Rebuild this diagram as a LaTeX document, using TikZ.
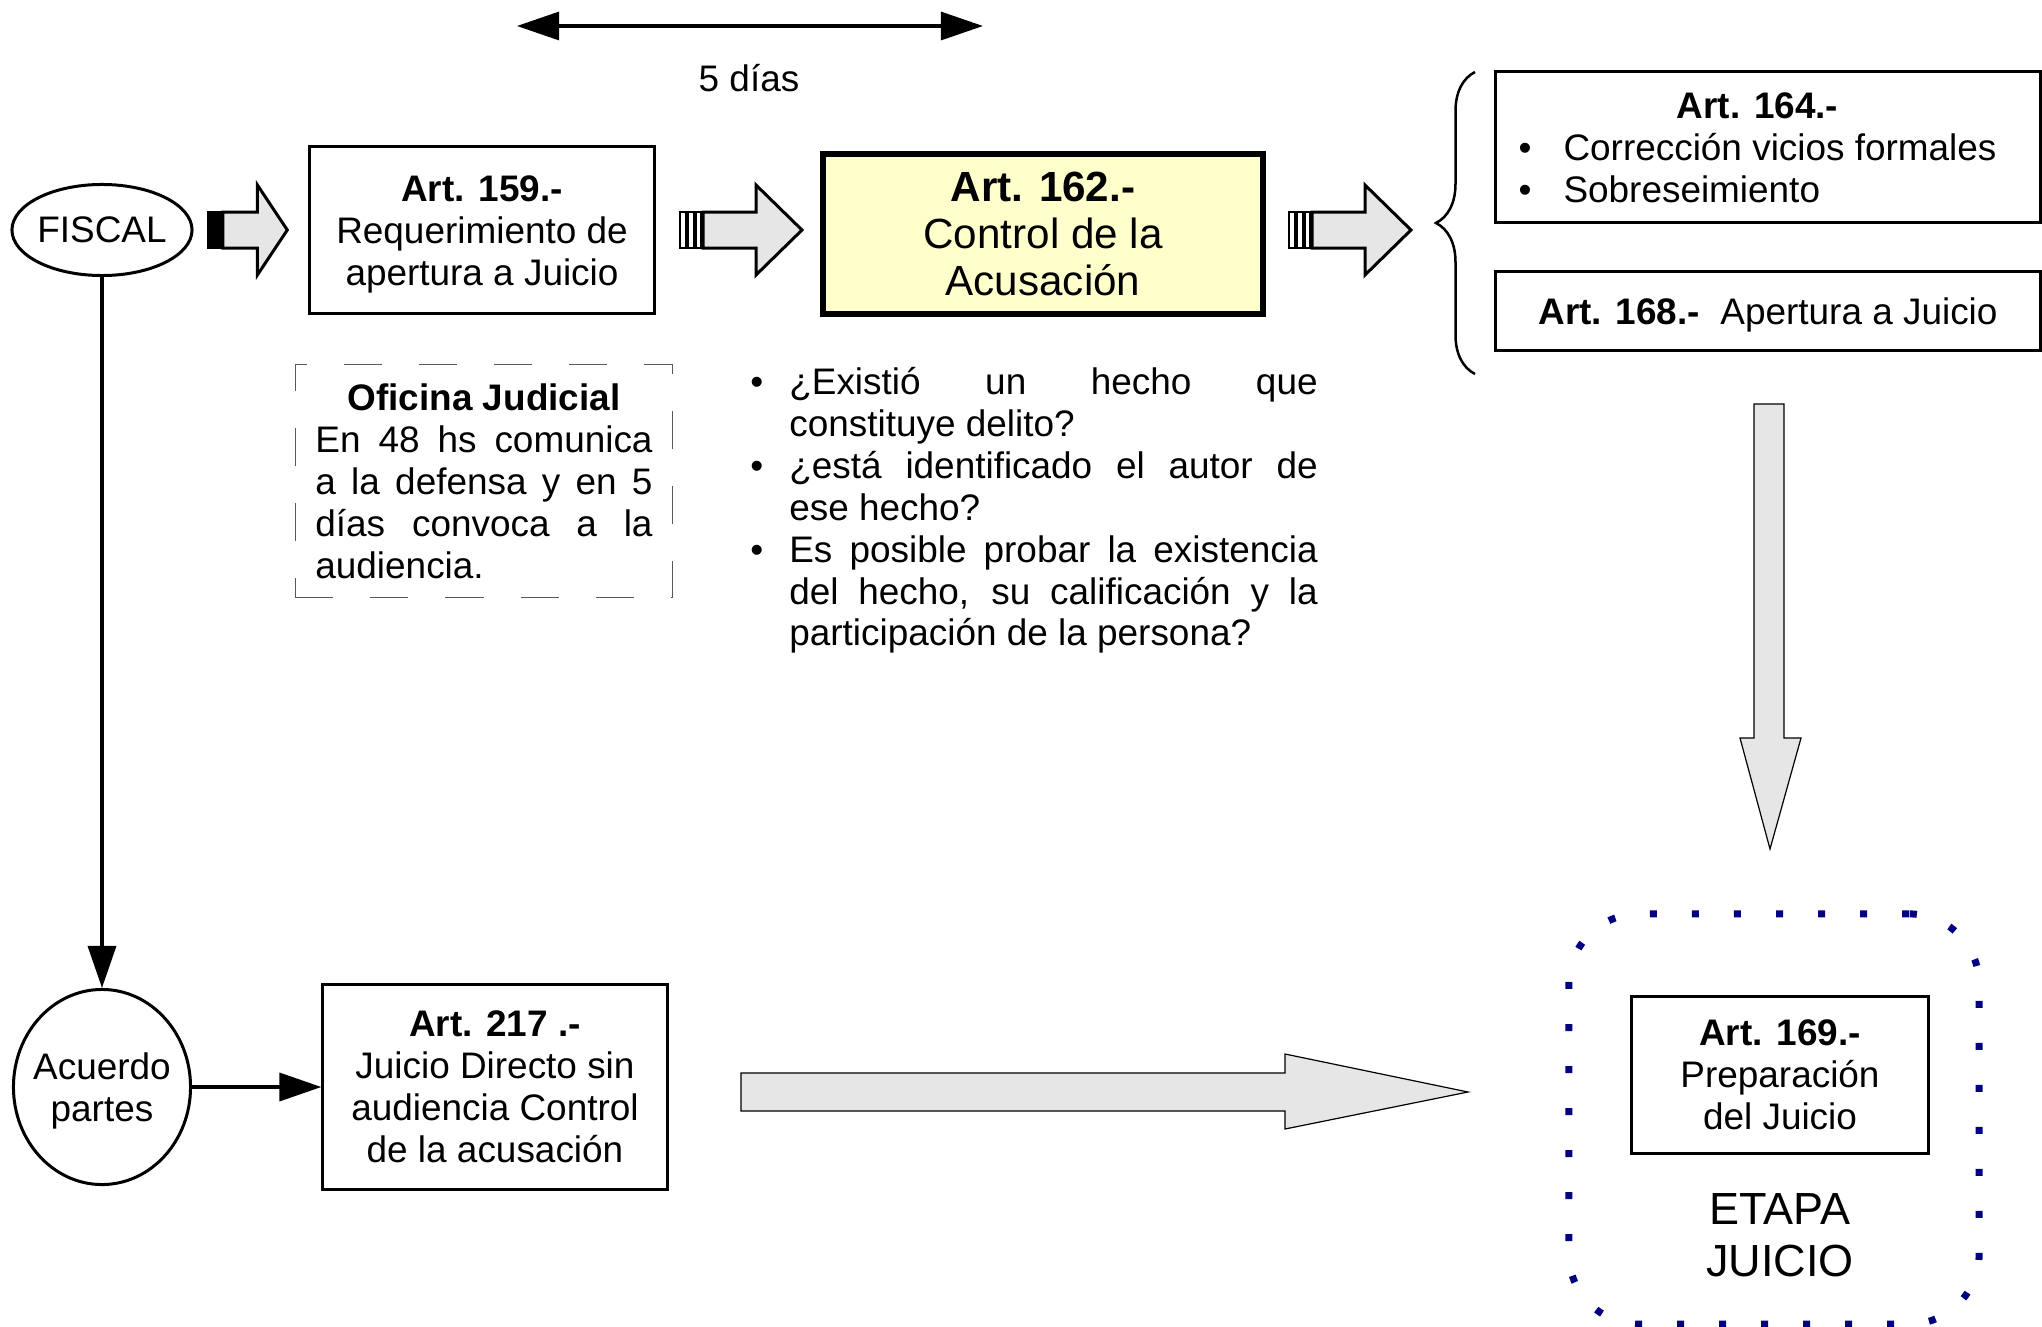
\documentclass[tikz,border=0pt]{standalone}
\usepackage{fontspec}
\setmainfont{Liberation Sans}
\usepackage{xcolor}
\usetikzlibrary{arrows.meta,decorations.pathreplacing,shapes.geometric}
\definecolor{amarillo}{HTML}{FFFFCC}
\definecolor{grisclaro}{HTML}{E6E6E6}
\definecolor{azulmarino}{HTML}{000080}
\newcommand{\punto}{\makebox[0.45cm][l]{•}}
\newcommand{\bajado}[1]{\raisebox{-0.05cm}[\height][\depth]{\begin{tabular}{@{}c@{}}#1\end{tabular}}}
\newcommand{\rayada}[4]{%
  \begin{scope}[shift={(#1,#2)}, xscale=#3]
    \draw[line width=0.03cm, fill=grisclaro, line join=miter] (23,-18) -- (76,-18) -- (76,-45) -- (122,0) -- (76,45) -- (76,18) -- (23,18) -- cycle;
    \foreach \a/\b in {0/6, 8/14, 16/21}
      \draw[line width=0.025cm, fill=#4] (\a,-18) rectangle (\b,18);
  \end{scope}}

\begin{document}
\begin{tikzpicture}[x=0.01cm, y=-0.01cm,
    font=\fontsize{10.5}{11.9}\selectfont,
    >={Triangle[length=0.42cm, width=0.28cm]},
    caja/.style={draw, line width=0.03cm, align=center, inner sep=2pt},
    elipse/.style={draw, ellipse, line width=0.03cm, inner sep=0pt, align=center},
    flecha/.style={->, line width=0.035cm},
    bloque/.style={draw, line width=0.012cm, fill=grisclaro},
    oficina/.style={draw=black!65, line width=0.015cm, dash pattern=on 0.38cm off 0.37cm}]
  \useasboundingbox (0,0) rectangle (2042,1327);

  \coordinate (ini5) at (517,26);
  \coordinate (fin5) at (983,26);
  \draw[<->, line width=0.03cm] (ini5) -- (fin5);
  \node (cinco) at (749,78) {5 días};

  \node[elipse, minimum width=1.80cm, minimum height=0.91cm] (fiscal) at (102,230) {\makebox[0pt]{FISCAL}};
  \node[caja, minimum width=3.44cm, minimum height=1.67cm] (a159) at (482,230)
    {\bajado{\textbf{Art. 159.-}\\Requerimiento de\\apertura a Juicio}};
  \node[caja, line width=0.06cm, fill=amarillo, minimum width=4.40cm, minimum height=1.60cm,
    font=\fontsize{12}{13.4}\selectfont] (a162) at (1043,234)
    {\textbf{Art. 162.-}\\Control de la\\Acusación};
  \rayada{208}{230}{0.65}{black}
  \rayada{680}{230}{1}{white}
  \rayada{1289}{230}{1}{white}

  \node[oficina, minimum width=3.77cm, minimum height=2.30cm] (ofi) at (484,481) {%
    \raisebox{-0.05cm}[\height][\depth]{\begin{tabular}{@{}c@{}}
      \textbf{Oficina Judicial}\\
      \makebox[3.37cm][s]{En 48 hs comunica}\\
      \makebox[3.37cm][s]{a la defensa y en 5}\\
      \makebox[3.37cm][s]{días convoca a la}\\
      \makebox[3.37cm][l]{audiencia.}
    \end{tabular}}};
  \node (preguntas) at (1034,512) {%
    \begin{tabular}{@{}p{0.39cm}@{}l@{}}
      • & \makebox[5.28cm][s]{¿Existió un hecho que}\\
        & constituye delito?\\
      • & \makebox[5.28cm][s]{¿está identificado el autor de}\\
        & ese hecho?\\
      • & \makebox[5.28cm][s]{Es posible probar la existencia}\\
        & \makebox[5.28cm][s]{del hecho, su calificación y la}\\
        & participación de la persona?
    \end{tabular}};

  \draw[line width=0.025cm, decorate, decoration={brace, amplitude=0.39cm}] (1475,374) -- (1475,72);
  \node[caja, minimum width=5.45cm, minimum height=1.51cm] (a164) at (1768,147) {%
    \raisebox{-0.05cm}[\height][\depth]{\begin{tabular}{@{}l@{}}
      \multicolumn{1}{c}{\textbf{Art. 164.-}}\\
      \punto Corrección vicios formales\\
      \punto Sobreseimiento
    \end{tabular}}\hspace*{0.21cm}};
  \node[caja, minimum width=5.45cm, minimum height=0.78cm] (a168) at (1768,311)
    {\bajado{\textbf{Art. 168.-}\ \ Apertura a Juicio}};

  \draw[bloque] (1754,404) -- (1784,404) -- (1784,738) -- (1801,738) -- (1770,849)
    -- (1740,738) -- (1754,738) -- cycle;

  \node[elipse, minimum width=1.77cm, minimum height=1.95cm] (acuerdo) at (102,1087)
    {\makebox[0pt]{\bajado{Acuerdo\\partes}}};
  \node[caja, minimum width=3.44cm, minimum height=2.04cm] (a217) at (495,1087)
    {\textbf{Art. 217 .-}\\Juicio Directo sin\\audiencia Control\\de la acusación};
  \draw[flecha] (fiscal.south) -- (acuerdo.north);
  \draw[flecha] (acuerdo) -- (a217);

  \draw[bloque] (741,1073) -- (1285,1073) -- (1285,1054) -- (1468,1092) -- (1285,1129)
    -- (1285,1111) -- (741,1111) -- cycle;

  \node[draw=azulmarino, line width=0.07cm, dash pattern=on 0.07cm off 0.35cm, rounded corners=0.7cm,
    minimum width=4.10cm, minimum height=4.10cm] (marco) at (1774,1119) {};
  \node[caja, minimum width=2.97cm, minimum height=1.57cm] (a169) at (1780,1075)
    {\textbf{Art. 169.-}\\Preparación\\del Juicio};
  \node[align=center, font=\fontsize{12.8}{14.8}\selectfont] (etapa) at (1780,1235) {ETAPA\\JUICIO};
\end{tikzpicture}
\end{document}
